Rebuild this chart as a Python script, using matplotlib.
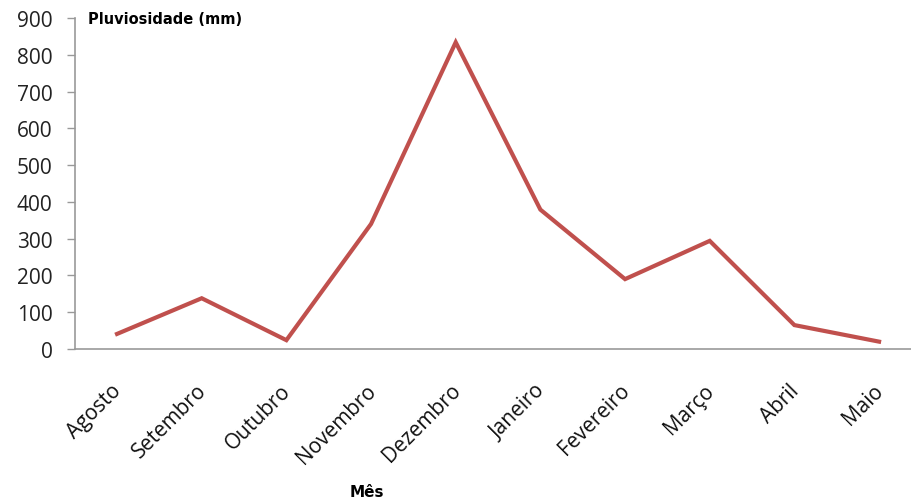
import matplotlib
matplotlib.use("Agg")
import matplotlib.pyplot as plt
import matplotlib.transforms as mtransforms

meses = ["Agosto", "Setembro", "Outubro", "Novembro", "Dezembro",
         "Janeiro", "Fevereiro", "Março", "Abril", "Maio"]
pluviosidade = [41, 138, 24, 340, 834, 379, 190, 294, 65, 20]
y_ticks = [0, 100, 200, 300, 400, 500, 600, 700, 800, 900]

W, H = 912, 502
fig = plt.figure(figsize=(W / 100, H / 100), dpi=100)
ax_left, ax_right, ax_top, ax_bottom = 74.7, 921.4, 19, 350
ax = fig.add_axes([ax_left / W, 1 - ax_bottom / H,
                   (ax_right - ax_left) / W, (ax_bottom - ax_top) / H])

x = list(range(len(meses)))
ax.plot(x, pluviosidade, color="#C0504D", linewidth=3.0,
        solid_joinstyle="miter", clip_on=False)

ax.set_xlim(-0.5, len(meses) - 0.5)
ax.set_ylim(0, 900)
ax.set_yticks(y_ticks)
ax.set_yticklabels([str(v) for v in y_ticks], fontsize=15,
                   family="Open Sans", color="#222222")
ax.set_xticks(x)
ax.set_xticklabels([])

# rotated month labels, anchored below each category position
label_offset = mtransforms.ScaledTranslation(-6 / 100, -30.6 / 100,
                                             fig.dpi_scale_trans)
label_trans = ax.get_xaxis_transform() + label_offset
for xi, mes in zip(x, meses):
    ax.text(xi, 0, mes, transform=label_trans, rotation=45,
            ha="right", va="top", rotation_mode="anchor",
            fontsize=15, family="Open Sans", color="#111111", clip_on=False)

for s in ["top", "right"]:
    ax.spines[s].set_visible(False)
for s in ["left", "bottom"]:
    ax.spines[s].set_color("#999999")
    ax.spines[s].set_linewidth(1.2)
ax.tick_params(axis="y", length=6, width=1, color="#999999", pad=10)
ax.tick_params(axis="x", length=0)

fig.text(88 / W, 1 - 19 / H, "Pluviosidade (mm)", fontsize=10.5,
         fontweight="bold", family="DejaVu Sans", va="center", ha="left")
fig.text(367 / W, 1 - 493 / H, "Mês", fontsize=11,
         fontweight="bold", family="DejaVu Sans", va="center", ha="center")

fig.savefig("out.png", dpi=100)
